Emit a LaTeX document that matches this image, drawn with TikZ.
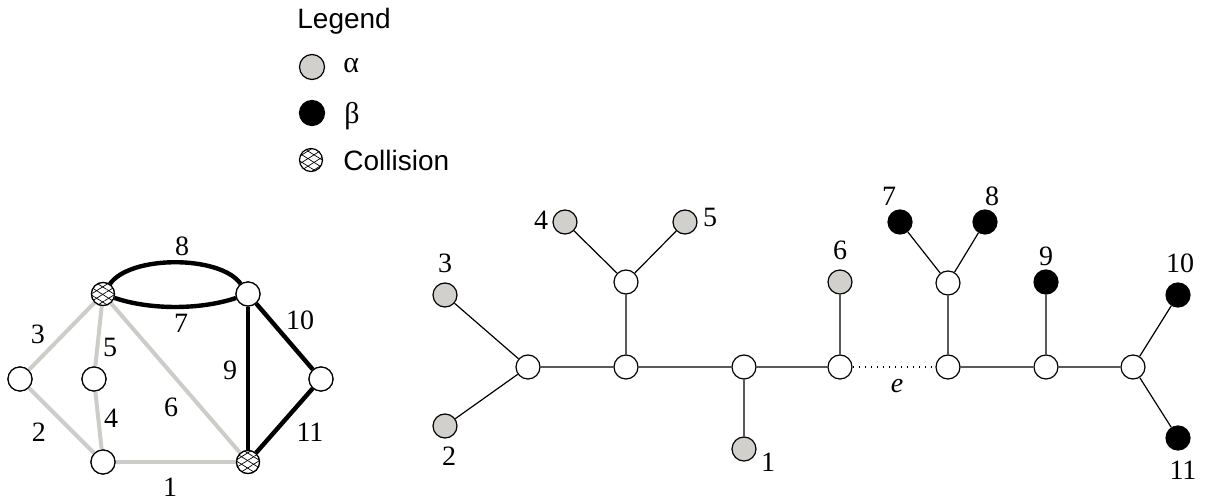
\documentclass[tikz,border=0pt]{standalone}
\usepackage{fontspec}
\setmainfont{Liberation Serif}
\newfontfamily\legfont{Liberation Sans}
\usetikzlibrary{patterns.meta}
\definecolor{lgray}{RGB}{210,208,204}
\definecolor{egray}{RGB}{205,204,200}
\begin{document}
\begin{tikzpicture}[x=0.5pt,y=-0.5pt,
  every node/.style={font=\fontsize{14}{16}\selectfont},
  vtx/.style={circle,draw,line width=0.6pt,fill=white,minimum size=12pt,inner sep=0pt},
  alf/.style={vtx,fill=lgray},
  bet/.style={vtx,fill=black},
  col/.style={circle,draw,line width=0.6pt,minimum size=11.5pt,inner sep=0pt,fill=white,
     postaction={pattern={Lines[angle=32,distance=3.2pt,line width=0.35pt]}},
     postaction={pattern={Lines[angle=-32,distance=3.2pt,line width=0.35pt]}}},
  gedge/.style={draw=egray,line width=2pt},
  bedge/.style={draw=black,line width=2.2pt},
  tedge/.style={draw=black,line width=0.6pt},
  lbl/.style={inner sep=0pt},
  greek/.style={inner sep=0pt,anchor=west,font=\fontsize{15}{18}\selectfont},
  leg/.style={font=\legfont\fontsize{14}{17}\selectfont,inner sep=0pt,anchor=west}]
\useasboundingbox (0,0) rectangle (1205,502);
% Legend
\node[leg] (lt) at (297,21) {Legend};
\node[alf,minimum size=12.5pt] (la) at (312,67) {};
\node[greek] (lat) at (343,66) {α};
\node[bet,minimum size=12.5pt] (lb) at (312,113) {};
\node[greek] (lbt) at (344,116) {β};
\node[col,minimum size=11.5pt] (lc) at (311,160) {};
\node[leg] (lct) at (343,160) {Collision};
% Left graph
\node[col] (p) at (103,294) {};
\node[vtx] (q) at (248,294) {};
\node[vtx] (l) at (20,379) {};
\node[vtx] (m) at (94,379) {};
\node[vtx] (b) at (103,462) {};
\node[col] (r) at (248,462) {};
\node[vtx] (s) at (321,379) {};
\path[gedge] (l) -- (p);
\path[gedge] (m) -- (p);
\path[gedge] (p) -- (r);
\path[gedge] (m) -- (b);
\path[gedge] (l) -- (b);
\path[gedge] (b) -- (r);
\path[bedge] (p) .. controls (130,255) and (220,255) .. (q);
\path[bedge] (p) .. controls (150,310) and (200,310) .. (q);
\path[bedge] (q) -- (r);
\path[bedge] (q) -- (s);
\path[bedge] (s) -- (r);
% redraw nodes on top
\node[col] at (p) {};
\node[vtx] at (q) {};
\node[vtx] at (l) {};
\node[vtx] at (m) {};
\node[vtx] at (b) {};
\node[col] at (r) {};
\node[vtx] at (s) {};
\node[lbl] (e8) at (182,246) {8};
\node[lbl] (e7) at (181,323) {7};
\node[lbl] (e3) at (38,334) {3};
\node[lbl] (e5) at (110,347) {5};
\node[lbl] (e9) at (230,370) {9};
\node[lbl] (e10) at (300,320) {10};
\node[lbl] (e6) at (171,407) {6};
\node[lbl] (e4) at (111,418) {4};
\node[lbl] (e2) at (39,432) {2};
\node[lbl] (e11) at (310,432) {11};
\node[lbl] (e1) at (170,487) {1};
% Right tree
\node[vtx] (A) at (528,367) {};
\node[vtx] (B) at (626,367) {};
\node[vtx] (C) at (744,367) {};
\node[vtx] (D) at (840,367) {};
\node[vtx] (E) at (948,367) {};
\node[vtx] (F) at (1046,367) {};
\node[vtx] (G) at (1133,367) {};
\node[vtx] (H) at (626,282) {};
\node[vtx] (I) at (948,283) {};
\node[alf] (t3) at (445,295) {};
\node[alf] (t2) at (445,426) {};
\node[alf] (t4) at (565,222) {};
\node[alf] (t5) at (685,222) {};
\node[alf] (t1) at (744,449) {};
\node[alf] (t6) at (840,282) {};
\node[bet] (t7) at (900,222) {};
\node[bet] (t8) at (985,222) {};
\node[bet] (t9) at (1046,282) {};
\node[bet] (t10) at (1178,295) {};
\node[bet] (t11) at (1178,438) {};
\path[tedge] (A) -- (B) (B) -- (C) (C) -- (D) (E) -- (F) (F) -- (G)
  (A) -- (t3) (A) -- (t2) (B) -- (H) (H) -- (t4) (H) -- (t5)
  (C) -- (t1) (D) -- (t6) (E) -- (I) (I) -- (t7) (I) -- (t8)
  (F) -- (t9) (G) -- (t10) (G) -- (t11);
\draw[line width=0.6pt,dash pattern=on 0.6pt off 2.4pt] (D) -- (E);
\node[lbl] (le) at (897,386) {\textit{e}};
\node[lbl] (n3) at (445,263) {3};
\node[lbl] (n2) at (449,456) {2};
\node[lbl] (n4) at (541,220) {4};
\node[lbl] (n5) at (710,217) {5};
\node[lbl] (n1) at (768,462) {1};
\node[lbl] (n6) at (840,250) {6};
\node[lbl] (n7) at (889,196) {7};
\node[lbl] (n8) at (992,196) {8};
\node[lbl] (n9) at (1046,256) {9};
\node[lbl] (n10) at (1180,263) {10};
\node[lbl] (n11) at (1183,470) {11};
\end{tikzpicture}
\end{document}
